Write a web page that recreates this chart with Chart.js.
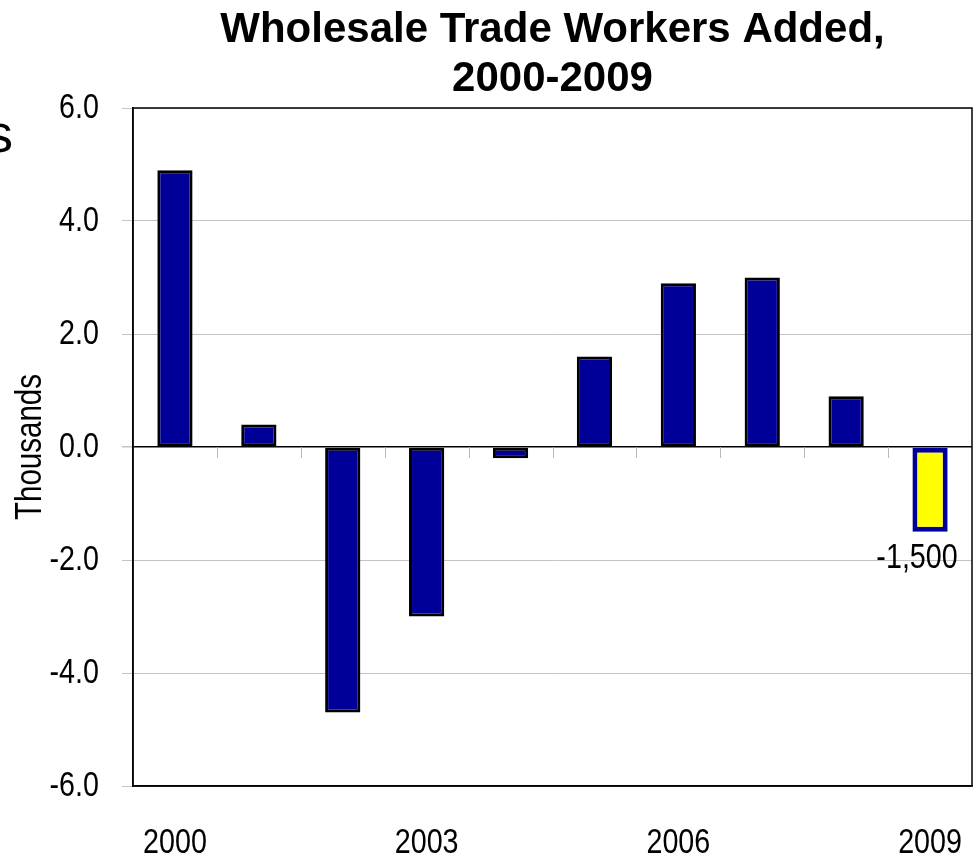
<!DOCTYPE html>
<html><head><meta charset="utf-8">
<script src="https://cdn.jsdelivr.net/npm/chart.js@4"></script>
<style>html,body{margin:0;padding:0;background:#fff;overflow:hidden}#wrap{width:978px;height:856px;position:relative}</style>
</head><body><div id="wrap"><canvas id="c"></canvas></div>
<script>
const years = ['2000','2001','2002','2003','2004','2005','2006','2007','2008','2009'];
const workersAdded = [4.9, 0.4, -4.7, -3.0, -0.2, 1.6, 2.9, 3.0, 0.9, -1.5];
const yTickValues = [-6, -4, -2, 0, 2, 4, 6];
const shownYearLabels = ['2000','2003','2006','2009'];
const titleLines = ['Wholesale Trade Workers Added,', '2000-2009'];
const yAxisTitle = 'Thousands';
const highlightLabel = '-1,500';
const strayText = 's';

// Narrow face: Liberation Sans drawn horizontally condensed (Arial Narrow look)
const NARROW_TAG = 'NarrowFace';
const NARROW = NARROW_TAG + ', "Liberation Sans", Arial, sans-serif';
const SANS = '"Liberation Sans", Arial, sans-serif';
const NARROW_SCALE = 0.82;
const origFillText = CanvasRenderingContext2D.prototype.fillText;
CanvasRenderingContext2D.prototype.fillText = function (t, x, y) {
  if (this.font.indexOf(NARROW_TAG) >= 0) {
    this.save();
    this.translate(x, y);
    this.scale(NARROW_SCALE, 1);
    origFillText.call(this, t, 0, 0);
    this.restore();
    return;
  }
  return origFillText.apply(this, arguments);
};

const lastIdx = workersAdded.length - 1;

const decor = {
  id: 'decor',
  beforeDatasetsDraw(chart) {
    const {ctx, scales: {x, y}} = chart;
    const y0 = y.getPixelForValue(0);
    ctx.save();
    ctx.strokeStyle = '#b8b8b8';
    ctx.lineWidth = 1;
    for (let i = 1; i < years.length; i++) {
      const px = Math.round((x.getPixelForValue(i - 1) + x.getPixelForValue(i)) / 2) + 0.5;
      ctx.beginPath(); ctx.moveTo(px, y0); ctx.lineTo(px, y0 + 11); ctx.stroke();
    }
    ctx.restore();
  },
  afterDraw(chart) {
    const {ctx, chartArea: a} = chart;
    ctx.save();
    ctx.strokeStyle = '#000';
    ctx.lineWidth = 1.5;
    ctx.strokeRect(a.left, a.top, a.right - a.left, a.bottom - a.top);
    // title
    ctx.fillStyle = '#000';
    ctx.font = 'bold 42px ' + SANS;
    ctx.textAlign = 'center';
    ctx.textBaseline = 'alphabetic';
    const cx = (a.left + a.right) / 2;
    ctx.fillText(titleLines[0], cx, 42);
    ctx.fillText(titleLines[1], cx, 91);
    // highlight label
    const bar = chart.getDatasetMeta(0).data[lastIdx];
    ctx.font = '35px ' + NARROW;
    ctx.textBaseline = 'middle';
    ctx.fillText(highlightLabel, bar.x - 13, bar.y + 27);
    // stray clipped text at left edge
    ctx.font = '54px ' + SANS;
    ctx.textAlign = 'right';
    ctx.textBaseline = 'alphabetic';
    ctx.fillText(strayText, 13, 152);
    ctx.restore();
  }
};

new Chart(document.getElementById('c'), {
  type: 'bar',
  data: {
    labels: years,
    datasets: [{
      data: workersAdded,
      backgroundColor: workersAdded.map((v, i) => i === lastIdx ? '#ffff00' : '#000099'),
      borderColor: workersAdded.map((v, i) => i === lastIdx ? '#000099' : '#000000'),
      borderWidth: workersAdded.map((v, i) => i === lastIdx ? 5 : 3),
      borderSkipped: false,
      barPercentage: 0.42,
      categoryPercentage: 1.0
    }]
  },
  plugins: [decor],
  options: {
    responsive: true,
    maintainAspectRatio: false,
    animation: false,
    events: [],
    layout: {padding: {top: 108, right: 6, left: 0, bottom: 0}},
    plugins: {legend: {display: false}, tooltip: {enabled: false}, title: {display: false}},
    scales: {
      x: {
        afterFit(s) { s.height = 70; },
        grid: {display: true, drawOnChartArea: false, color: 'rgba(0,0,0,0)', tickColor: 'rgba(0,0,0,0)', tickLength: 36},
        border: {display: true, color: '#000', width: 1.5},
        ticks: {
          autoSkip: false, maxRotation: 0, minRotation: 0, padding: 0,
          color: '#000',
          font: {family: NARROW, size: 35},
          callback: (v, i) => shownYearLabels.includes(years[i]) ? years[i] : ''
        }
      },
      y: {
        min: -6, max: 6,
        afterFit(s) { s.width = 133; },
        afterBuildTicks(s) { s.ticks = yTickValues.map(v => ({value: v})); },
        grid: {
          color: c => c.tick && c.tick.value === 0 ? '#000' : '#c4c4c4',
          lineWidth: c => c.tick && c.tick.value === 0 ? 1.5 : 1,
          tickColor: '#c4c4c4',
          tickLength: 11
        },
        border: {display: true, color: '#000', width: 1.5},
        ticks: {
          padding: 23, color: '#000',
          font: {family: NARROW, size: 35},
          callback: v => Number(v).toFixed(1)
        },
        title: {
          display: true, text: yAxisTitle, color: '#000',
          font: {family: NARROW, size: 36, lineHeight: 1.2},
          padding: {top: 9, bottom: 0}
        }
      }
    }
  }
});
</script></body></html>
